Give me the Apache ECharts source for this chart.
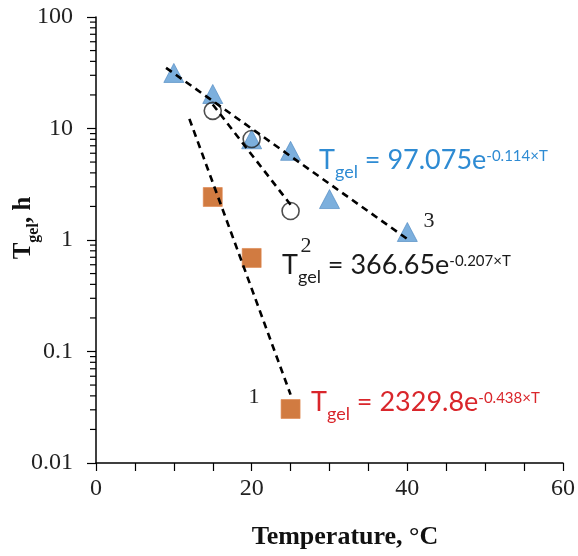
<!DOCTYPE html>
<html>
<head>
<meta charset="utf-8">
<script src="https://cdn.jsdelivr.net/npm/echarts@6/dist/echarts.min.js"></script>
<style>html,body{margin:0;padding:0;background:#fff}#c{width:578px;height:556px}</style>
</head>
<body>
<div id="c"></div>
<script>
// Data
const series1 = [[15, 2.43], [20, 0.69], [25, 0.0305]];          // squares (curve 1)
const series2 = [[15, 14.4], [20, 8.05], [25, 1.82]];            // open circles (curve 2)
const series3 = [[10, 31.5], [15, 20.4], [20, 8.0], [25, 6.3], [30, 2.33], [40, 1.18]]; // triangles (curve 3)
const trend1 = [[12, 12.2], [25, 0.041]];
const trend2 = [[15, 16.4], [25, 2.07]];
const trend3 = [[9, 35], [40, 1.02]];
const xTickLabels = [0, 20, 40, 60];
const yTickLabels = ['0.01', '0.1', '1', '10', '100'];
const yDecades = [0.01, 0.1, 1, 10];
const minorMultipliers = [2, 3, 4, 5, 6, 7, 8, 9];

const minorTicks = [];
yDecades.forEach(d => minorMultipliers.forEach(m => minorTicks.push([0, +(d * m).toPrecision(3)])));

const chart = echarts.init(document.getElementById('c'));
const serif = '"Liberation Serif", "Times New Roman", serif';
const eqFont = 'Lato, "Noto Sans", sans-serif';

function eqRich(color) {
  return {
    n: {fontSize: 27, fontFamily: eqFont, fill: color, lineHeight: 44, verticalAlign: 'middle'},
    s: {fontSize: 18, fontFamily: eqFont, fill: color, lineHeight: 16, verticalAlign: 'middle', padding: [25, 0, 0, 0]},
    p: {fontSize: 15, fontFamily: eqFont, fill: color, lineHeight: 18, verticalAlign: 'middle', padding: [0, 0, 7, 0]}
  };
}

const dashStyle = {color: '#000', width: 2.6, type: [7, 5]};

const option = {
  animation: false,
  grid: {left: 96, right: 15, top: 17, bottom: 93},
  xAxis: {
    type: 'value', min: 0, max: 60, interval: 5,
    axisLine: {lineStyle: {color: '#000', width: 1.5}},
    axisTick: {show: true, length: 8, lineStyle: {color: '#000', width: 1.2}},
    splitLine: {show: false},
    axisLabel: {
      margin: 14, fontSize: 24, fontFamily: serif, color: '#222',
      formatter: v => xTickLabels.indexOf(v) >= 0 ? String(v) : ''
    }
  },
  yAxis: {
    type: 'log', logBase: 10, min: 0.01, max: 100,
    axisLine: {show: true, lineStyle: {color: '#000', width: 1.5}},
    axisTick: {show: true, length: 9, lineStyle: {color: '#000', width: 1.2}},
    splitLine: {show: false},
    axisLabel: {
      margin: 23, fontSize: 24, fontFamily: serif, color: '#222',
      formatter: v => {
        const s = String(parseFloat(Number(v).toPrecision(1)));
        return yTickLabels.indexOf(s) >= 0 ? s : '';
      }
    }
  },
  series: [
    {
      type: 'custom', coordinateSystem: 'cartesian2d', clip: false, silent: true,
      data: minorTicks,
      renderItem: (params, api) => {
        const p = api.coord([api.value(0), api.value(1)]);
        return {type: 'line', shape: {x1: p[0] - 6, y1: p[1], x2: p[0], y2: p[1]},
                style: {stroke: '#000', lineWidth: 1.2}};
      }
    },
    {type: 'scatter', data: series1, symbol: 'rect', symbolSize: 19,
     itemStyle: {color: '#C55A11', borderColor: '#E08850', borderWidth: 0.8}},
    {type: 'scatter', data: series3, symbol: 'triangle', symbolSize: [20, 19],
     itemStyle: {color: '#5B9BD5', borderColor: '#4A86C0', borderWidth: 0.8}},
    {type: 'scatter', data: series2, symbol: 'circle', symbolSize: 17,
     itemStyle: {color: 'rgba(0,0,0,0)', borderColor: '#222', borderWidth: 1.6}},
    {type: 'line', data: trend1, symbol: 'none', lineStyle: dashStyle},
    {type: 'line', data: trend2, symbol: 'none', lineStyle: dashStyle},
    {type: 'line', data: trend3, symbol: 'none', lineStyle: dashStyle}
  ],
  graphic: [
    {type: 'text', z: 100, style: {x: 319, y: 160, align: 'left', verticalAlign: 'middle',
      text: '{n|T}{s|gel}{n| = 97.075e}{p|-0.114×T}', rich: eqRich('#2E8BD3')}},
    {type: 'text', z: 100, style: {x: 282, y: 265, align: 'left', verticalAlign: 'middle',
      text: '{n|T}{s|gel}{n| = 366.65e}{p|-0.207×T}', rich: eqRich('#1a1a1a')}},
    {type: 'text', z: 100, style: {x: 311, y: 402, align: 'left', verticalAlign: 'middle',
      text: '{n|T}{s|gel}{n| = 2329.8e}{p|-0.438×T}', rich: eqRich('#D9262B')}},
    {type: 'text', z: 100, style: {x: 254, y: 397, align: 'center', verticalAlign: 'middle',
      text: '1', font: '22px ' + serif, fill: '#222'}},
    {type: 'text', z: 100, style: {x: 306, y: 246, align: 'center', verticalAlign: 'middle',
      text: '2', font: '22px ' + serif, fill: '#222'}},
    {type: 'text', z: 100, style: {x: 429, y: 221, align: 'center', verticalAlign: 'middle',
      text: '3', font: '22px ' + serif, fill: '#222'}},
    {type: 'text', z: 100, style: {x: 345, y: 537, align: 'center', verticalAlign: 'middle',
      text: 'Temperature, °C', font: 'bold 26px ' + serif, fill: '#111'}},
    {type: 'text', z: 100, x: 24, y: 228, rotation: Math.PI / 2,
      style: {x: 0, y: 0, align: 'center', verticalAlign: 'middle',
      text: '{b|T}{s|gel}{b|, h}',
      rich: {
        b: {font: 'bold 25px ' + serif, fill: '#111', lineHeight: 36, verticalAlign: 'middle'},
        s: {font: 'bold 16px ' + serif, fill: '#111', lineHeight: 16, verticalAlign: 'bottom'}
      }}}
  ]
};
chart.setOption(option);
</script>
</body>
</html>
